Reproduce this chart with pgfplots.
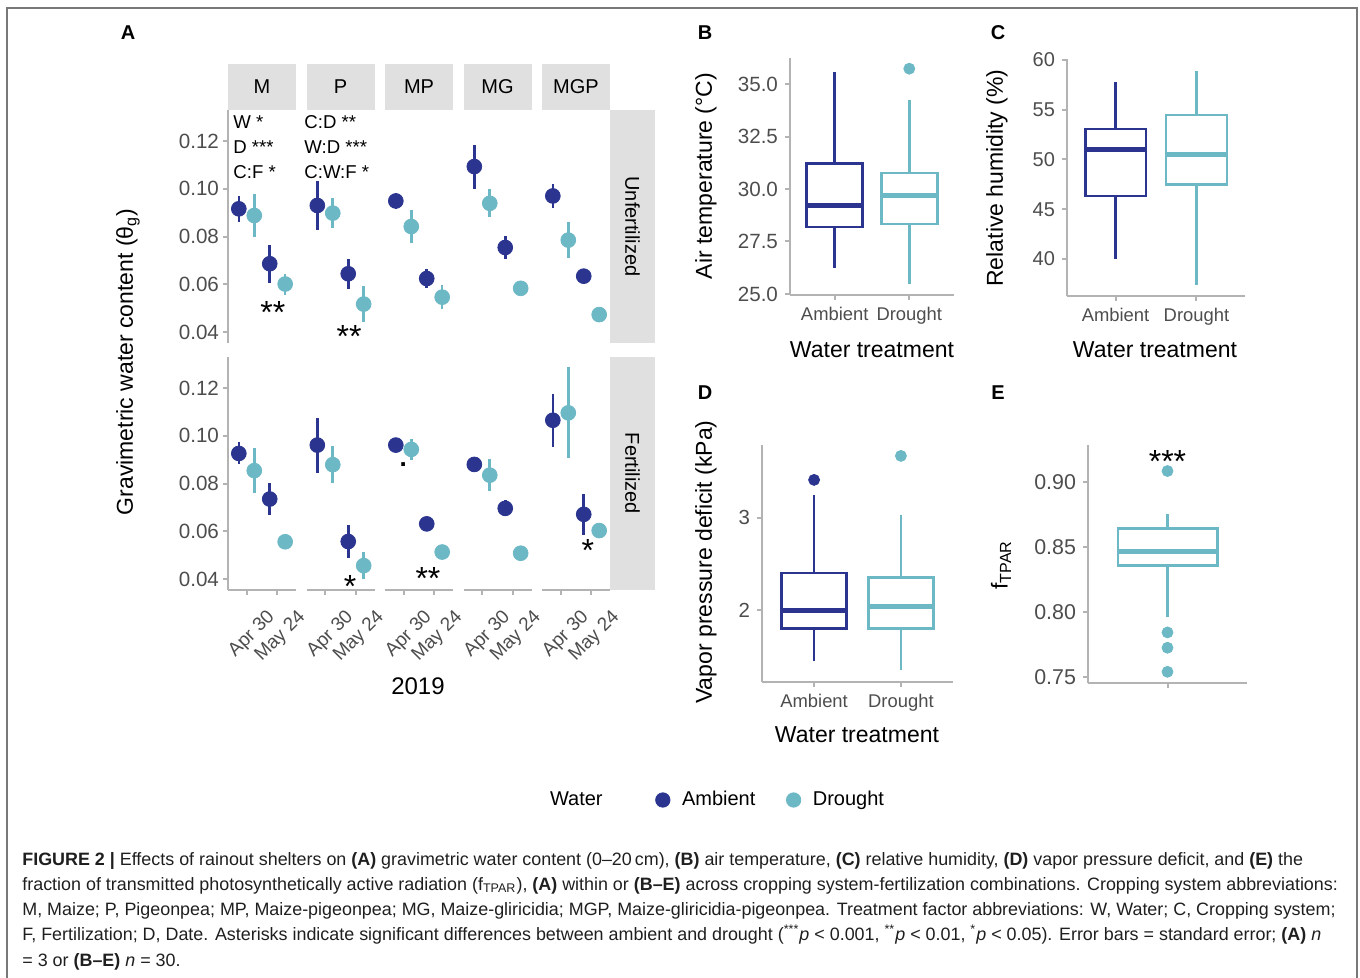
\documentclass[border=0pt]{standalone}
\usepackage{fontspec}
\setmainfont{Liberation Sans}
\usepackage{pgfplots}
\pgfplotsset{compat=1.18}
\usepgfplotslibrary{statistics}

\definecolor{amb}{RGB}{43,53,143}
\definecolor{dro}{RGB}{108,184,197}
\definecolor{axgray}{RGB}{179,179,179}
\definecolor{stripgray}{RGB}{224,224,224}
\definecolor{tickgray}{RGB}{77,77,77}
\definecolor{framegray}{RGB}{120,120,120}
\newcommand\fsz[1]{\fontsize{#1pt}{1.2\dimexpr#1pt\relax}\selectfont}
% page position in pixels of the 1360x978 reference (origin top left)
\def\P(#1,#2){({(#1)*0.5pt},{-(#2)*0.5pt})}
% significance stars, glyph centred on the given point
\newcommand\sig[3]{\node[font=\fsz{16}, inner sep=0pt, anchor=base] at (axis cs:#1,#2) {\raisebox{-0.57em}{#3}};}

\pgfplotsset{
  /pgf/number format/assume math mode=true,
  base/.style={scale only axis, anchor=south west, clip=false,
    axis x line*=bottom, axis y line*=left,
    axis line style={draw=axgray, line width=1pt},
    tick style={draw=axgray, line width=1pt},
    tick align=outside, major tick length=2.5pt,
    tick label style={color=tickgray}},
  facet/.style={base, width=34pt, height=116.5pt,
    xmin=0.4, xmax=2.6, ymin=0.0354, ymax=0.133,
    xtick={1,2}, xticklabels={Apr 30,May 24},
    ytick={0.04,0.06,0.08,0.10,0.12},
    xticklabel style={font=\fsz{9.5}, rotate=45, anchor=north east, xshift=5.5pt, yshift=-8pt},
    yticklabel style={font=\fsz{10.3}, xshift=1.5pt, /pgf/number format/fixed, /pgf/number format/fixed zerofill, /pgf/number format/precision=2}},
  pt/.style={only marks, mark=*, mark size=3.7pt, color=#1,
    error bars/y dir=both, error bars/y explicit, error bars/error mark=none,
    error bars/error bar style={line width=1.3pt, color=#1}},
  bx/.style={base, height=118.5pt,
    xmin=0.4, xmax=2.6, xtick={1,2}, xticklabels={Ambient,Drought},
    xticklabel style={font=\fsz{9.2}}, yticklabel style={font=\fsz{10.2}},
    boxplot/draw direction=y,
    boxplot/box extend=0.75, boxplot/whisker extend=0,
    boxplot/every median/.style={line width=2.5pt}},
  box/.style={draw=#1, fill=white, line width=1.3pt},
  out/.style={only marks, mark=*, mark size=2.75pt, color=#1},
}

\begin{document}
\begin{tikzpicture}
\useasboundingbox \P(0,0) rectangle \P(1360,978);
\draw[framegray, line width=1pt] \P(7,990) -- \P(7,8) -- \P(1357,8) -- \P(1357,990);

% facet strips
\foreach \xl/\lab in {228/M, 306.5/P, 385/MP, 463.5/MG, 542/MGP} {
  \fill[stripgray] \P(\xl,64) rectangle \P(\xl+68,110);
  \node[font=\fsz{10}] at \P(\xl+34,87) {\lab};
}
\fill[stripgray] \P(610,110) rectangle \P(655,343);
\fill[stripgray] \P(610,357) rectangle \P(655,590);
\node[rotate=-90, font=\fsz{10}] at \P(632.5,226.5) {Unfertilized};
\node[rotate=-90, font=\fsz{10}] at \P(632.5,473.5) {Fertilized};

% ---- A, unfertilized row (panel bottoms at 343 px)
\begin{axis}[facet, at={(114pt,-171.5pt)}, hide x axis]
\addplot[pt=amb] coordinates {(0.75,0.0916) +- (0,0.0055) (1.75,0.0686) +- (0,0.0079)};
\addplot[pt=dro] coordinates {(1.25,0.0888) +- (0,0.0089) (2.25,0.0601) +- (0,0.0044)};
\sig{1.85}{0.0514}{**}
\end{axis}
\begin{axis}[facet, at={(153.25pt,-171.5pt)}, hide x axis, hide y axis]
\addplot[pt=amb] coordinates {(0.75,0.0930) +- (0,0.0102) (1.75,0.0644) +- (0,0.0063)};
\addplot[pt=dro] coordinates {(1.25,0.0898) +- (0,0.0064) (2.25,0.0517) +- (0,0.0077)};
\sig{1.78}{0.0410}{**}
\end{axis}
\begin{axis}[facet, at={(192.5pt,-171.5pt)}, hide x axis, hide y axis]
\addplot[pt=amb] coordinates {(0.75,0.0949) +- (0,0.0035) (1.75,0.0624) +- (0,0.0040)};
\addplot[pt=dro] coordinates {(1.25,0.0842) +- (0,0.0070) (2.25,0.0546) +- (0,0.0051)};
\end{axis}
\begin{axis}[facet, at={(231.75pt,-171.5pt)}, hide x axis, hide y axis]
\addplot[pt=amb] coordinates {(0.75,0.1093) +- (0,0.0092) (1.75,0.0754) +- (0,0.0049)};
\addplot[pt=dro] coordinates {(1.25,0.0939) +- (0,0.0059) (2.25,0.0583) +- (0,0.0005)};
\end{axis}
\begin{axis}[facet, at={(271pt,-171.5pt)}, hide x axis, hide y axis]
\addplot[pt=amb] coordinates {(0.75,0.0970) +- (0,0.0050) (1.75,0.0634) +- (0,0.0010)};
\addplot[pt=dro] coordinates {(1.25,0.0785) +- (0,0.0077) (2.25,0.0473) +- (0,0.0005)};
\end{axis}

% ---- A, fertilized row (panel bottoms at 590 px)
\begin{axis}[facet, at={(114pt,-295pt)}]
\addplot[pt=amb] coordinates {(0.75,0.0926) +- (0,0.0046) (1.75,0.0735) +- (0,0.0066)};
\addplot[pt=dro] coordinates {(1.25,0.0854) +- (0,0.0094) (2.25,0.0556) +- (0,0.0005)};
\end{axis}
\begin{axis}[facet, at={(153.25pt,-295pt)}, hide y axis]
\addplot[pt=amb] coordinates {(0.75,0.0961) +- (0,0.0115) (1.75,0.0557) +- (0,0.0069)};
\addplot[pt=dro] coordinates {(1.25,0.0879) +- (0,0.0078) (2.25,0.0456) +- (0,0.0058)};
\sig{1.81}{0.0397}{*}
\end{axis}
\begin{axis}[facet, at={(192.5pt,-295pt)}, hide y axis]
\addplot[pt=amb] coordinates {(0.75,0.0961) +- (0,0.0010) (1.75,0.0631) +- (0,0.0005)};
\addplot[pt=dro] coordinates {(1.25,0.0943) +- (0,0.0045) (2.25,0.0513) +- (0,0.0005)};
\node[font=\bfseries\fsz{13}, inner sep=0pt] at (axis cs:0.99,0.0881) {.};
\sig{1.79}{0.0432}{**}
\end{axis}
\begin{axis}[facet, at={(231.75pt,-295pt)}, hide y axis]
\addplot[pt=amb] coordinates {(0.75,0.0880) +- (0,0.0005) (1.75,0.0696) +- (0,0.0033)};
\addplot[pt=dro] coordinates {(1.25,0.0835) +- (0,0.0068) (2.25,0.0508) +- (0,0.0005)};
\end{axis}
\begin{axis}[facet, at={(271pt,-295pt)}, hide y axis]
\addplot[pt=amb] coordinates {(0.75,0.1065) +- (0,0.0110) (1.75,0.0671) +- (0,0.0086)};
\addplot[pt=dro] coordinates {(1.25,0.1096) +- (0,0.0190) (2.25,0.0603) +- (0,0.0005)};
\sig{1.88}{0.0550}{*}
\end{axis}

% model terms
\begin{scope}[every node/.style={font=\fsz{9.3}, anchor=west, inner sep=0pt}]
\node at \P(233,122) {W *};
\node at \P(233,147) {D ***};
\node at \P(233,172) {C:F *};
\node at \P(304,122) {C:D **};
\node at \P(304,147) {W:D ***};
\node at \P(304,172) {C:W:F *};
\end{scope}

% ---- B
\begin{axis}[bx, at={(395pt,-147.5pt)}, width=82pt, ymin=24.95, ymax=36.24,
  ytick={25,27.5,30,32.5,35},
  yticklabel style={font=\fsz{10.3}, /pgf/number format/fixed, /pgf/number format/fixed zerofill, /pgf/number format/precision=1}]
\addplot[box=amb, boxplot prepared={draw position=1, lower whisker=26.22, lower quartile=28.18,
  median=29.2, upper quartile=31.2, upper whisker=35.56}] coordinates {};
\addplot[box=dro, boxplot prepared={draw position=2, lower whisker=25.48, lower quartile=28.34,
  median=29.71, upper quartile=30.76, upper whisker=34.22}] coordinates {};
\addplot[out=dro] coordinates {(2,35.73)};
\end{axis}

% ---- C
\begin{axis}[bx, at={(533.5pt,-148pt)}, width=89pt, ymin=36.28, ymax=60.1,
  ytick={40,45,50,55,60}, yticklabel style={font=\fsz{10}}]
\addplot[box=amb, boxplot prepared={draw position=1, lower whisker=40.0, lower quartile=46.33,
  median=51.0, upper quartile=53.07, upper whisker=57.76}] coordinates {};
\addplot[box=dro, boxplot prepared={draw position=2, lower whisker=37.39, lower quartile=47.5,
  median=50.52, upper quartile=54.47, upper whisker=58.93}] coordinates {};
\end{axis}

% ---- D
\begin{axis}[bx, at={(381pt,-341pt)}, width=95.5pt, ymin=1.22, ymax=3.788,
  ytick={2,3}]
\addplot[box=amb, boxplot prepared={draw position=1, lower whisker=1.448, lower quartile=1.80,
  median=1.99, upper quartile=2.40, upper whisker=3.245}] coordinates {};
\addplot[box=dro, boxplot prepared={draw position=2, lower whisker=1.35, lower quartile=1.80,
  median=2.04, upper quartile=2.35, upper whisker=3.03}] coordinates {};
\addplot[out=amb] coordinates {(1,3.41)};
\addplot[out=dro] coordinates {(2,3.67)};
\end{axis}

% ---- E
\begin{axis}[bx, at={(544pt,-341.5pt)}, width=79.5pt, height=119pt,
  xmin=0.4, xmax=1.6, xtick={1}, xticklabels={},
  ymin=0.7452, ymax=0.9282, ytick={0.75,0.80,0.85,0.90},
  yticklabel style={font=\fsz{10.7}, /pgf/number format/fixed, /pgf/number format/fixed zerofill, /pgf/number format/precision=2}]
\addplot[box=dro, boxplot prepared={draw position=1, lower whisker=0.7956, lower quartile=0.8354,
  median=0.8462, upper quartile=0.8641, upper whisker=0.8751}] coordinates {};
\addplot[out=dro] coordinates {(1,0.9082) (1,0.7841) (1,0.7723) (1,0.7538)};
\sig{1}{0.9213}{***}
\end{axis}

% legend
\begin{axis}[hide axis, scale only axis, width=10pt, height=10pt, xmin=0, xmax=1, ymin=0, ymax=1,
  at={(356.5pt,-400pt)}, anchor=center,
  legend columns=3,
  legend style={at={(0.5,0.5)}, anchor=center, draw=none, fill=none, font=\fsz{10},
    /tikz/every even column/.append style={column sep=13.5pt},
    /tikz/every odd column/.append style={column sep=4pt}}]
\addlegendimage{empty legend}\addlegendentry{Water\hspace*{11pt}}
\addlegendimage{only marks, mark=*, mark size=3.6pt, amb}\addlegendentry{Ambient}
\addlegendimage{only marks, mark=*, mark size=3.6pt, dro}\addlegendentry{Drought}
\end{axis}

% axis titles
\node[rotate=90, font=\fsz{11.5}] at \P(128,362) {Gravimetric water content (θ\textsubscript{g})};
\node[font=\fsz{12}] at \P(418,686) {2019};
\node[rotate=90, font=\fsz{11.5}] at \P(706,176) {Air temperature (°C)};
\node[rotate=90, font=\fsz{11.5}] at \P(997,178) {Relative humidity (\%)};
\node[rotate=90, font=\fsz{11.5}] at \P(706,562) {Vapor pressure deficit (kPa)};
\node[rotate=90, font=\fsz{11.5}] at \P(1001,565) {f\textsubscript{TPAR}};
\node[font=\fsz{11.5}] at \P(872,350) {Water treatment};
\node[font=\fsz{11.5}] at \P(1155,350) {Water treatment};
\node[font=\fsz{11.5}] at \P(857,735) {Water treatment};

% panel letters
\begin{scope}[every node/.style={font=\bfseries\fsz{10}}]
\node at \P(128,33) {A};
\node at \P(705,33) {B};
\node at \P(998,33) {C};
\node at \P(705,393) {D};
\node at \P(998,393) {E};
\end{scope}

% caption
\node[anchor=north west, align=left, inner sep=0pt, text=black!88,
  font={\fontsize{8.95pt}{12.6pt}\selectfont}] at \P(22,852) {%
\textbf{FIGURE 2 |} Effects of rainout shelters on \textbf{(A)} gravimetric water content (0–20\,cm), \textbf{(B)} air temperature, \textbf{(C)} relative humidity, \textbf{(D)} vapor pressure deficit, and \textbf{(E)} the\\
fraction of transmitted photosynthetically active radiation (f\textsubscript{TPAR}), \textbf{(A)} within or \textbf{(B–E)} across cropping system-fertilization combinations. Cropping system abbreviations:\\
M, Maize; P, Pigeonpea; MP, Maize-pigeonpea; MG, Maize-gliricidia; MGP, Maize-gliricidia-pigeonpea. Treatment factor abbreviations: W, Water; C, Cropping system;\\
F, Fertilization; D, Date. Asterisks indicate significant differences between ambient and drought (\textsuperscript{***}\textit{p} < 0.001, \textsuperscript{**}\textit{p} < 0.01, \textsuperscript{*}\textit{p} < 0.05). Error bars = standard error; \textbf{(A)} \textit{n}\\
= 3 or \textbf{(B–E)} \textit{n} = 30.};
\end{tikzpicture}
\end{document}
